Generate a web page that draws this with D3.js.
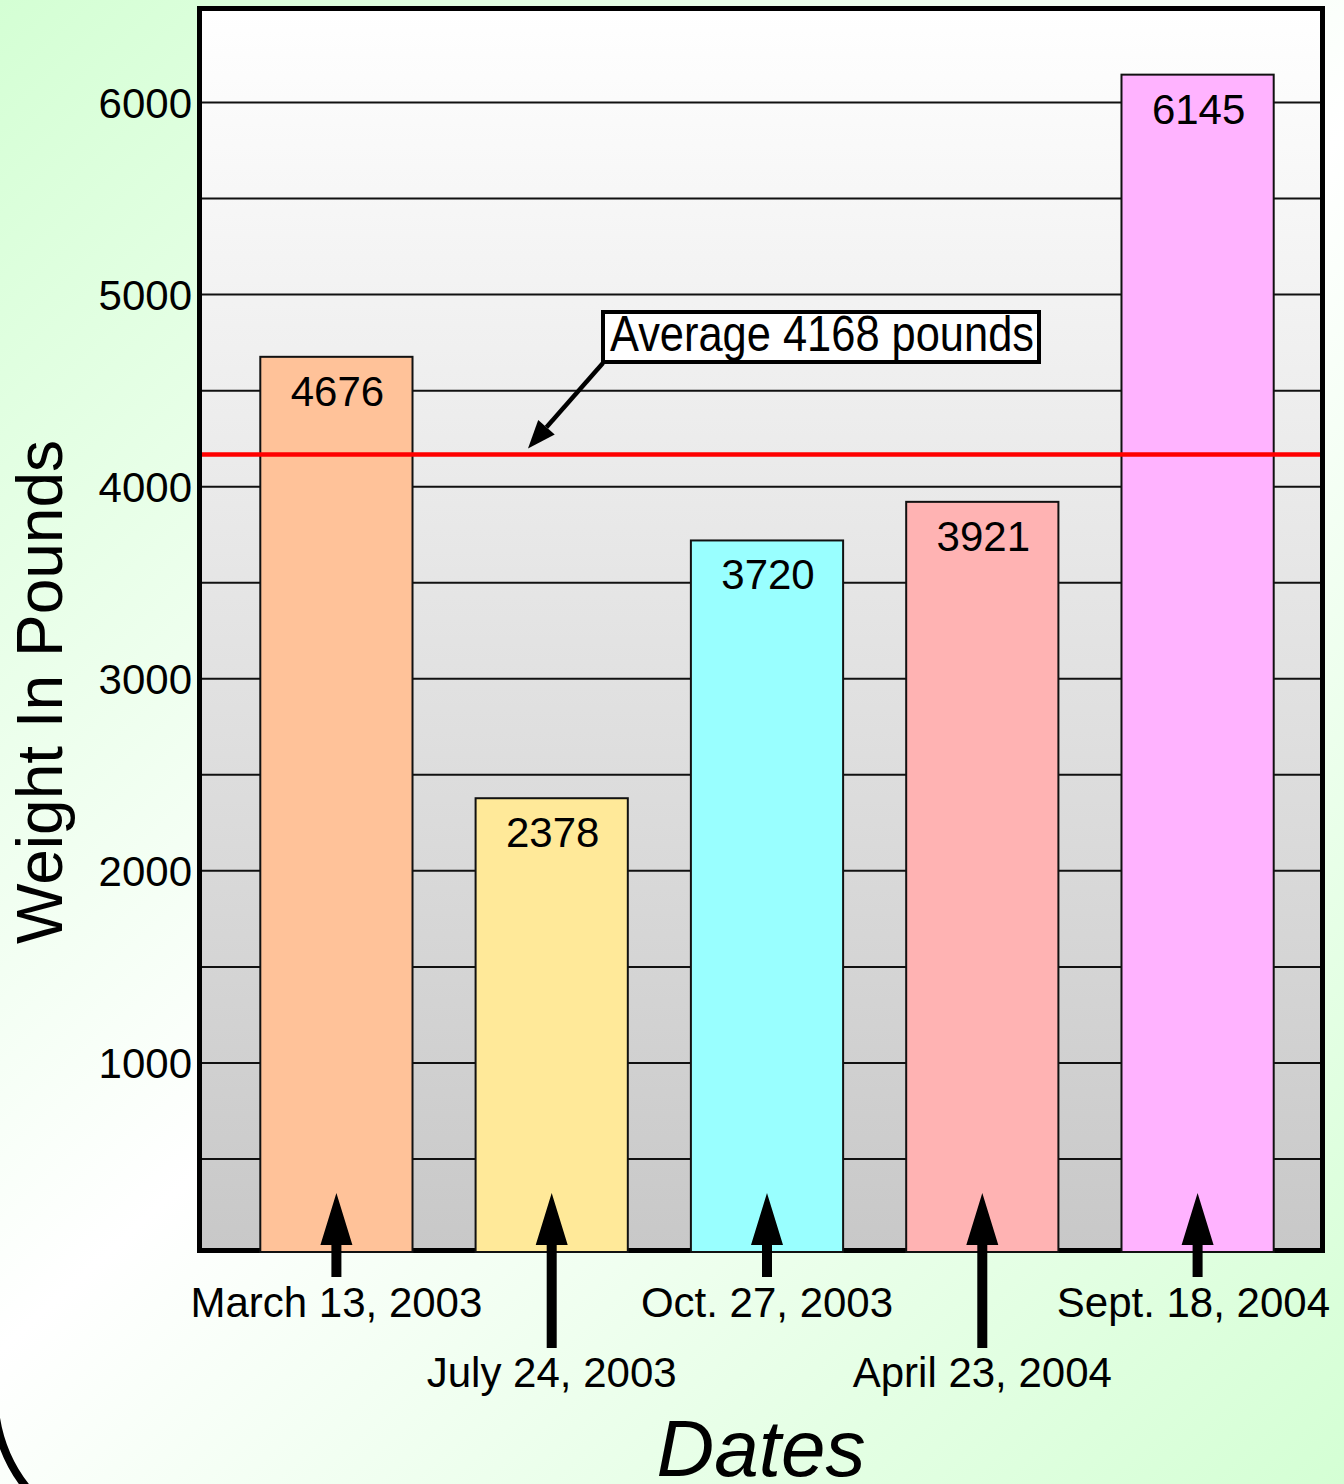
<!DOCTYPE html>
<html>
<head>
<meta charset="utf-8">
<script src="https://cdn.jsdelivr.net/npm/d3@7"></script>
<style>
  html, body { margin: 0; padding: 0; background: #fff; }
  svg { display: block; }
  text { font-family: "Liberation Sans", Arial, sans-serif; }
</style>
</head>
<body>
<svg id="chart" width="1344" height="1484"></svg>
<script>
// ---- data ----
const dates = ["March 13, 2003", "July 24, 2003", "Oct. 27, 2003", "April 23, 2004", "Sept. 18, 2004"];
const weights = [4676, 2378, 3720, 3921, 6145];
const barColors = ["#ffc299", "#ffe999", "#99ffff", "#ffb3b3", "#ffb3ff"];
const labelRows = [0, 1, 0, 1, 0];
const average = 4168;
const averageLabel = "Average 4168 pounds";
const yTickLabels = [1000, 2000, 3000, 4000, 5000, 6000];
const gridValues = [500, 1000, 1500, 2000, 2500, 3000, 3500, 4000, 4500, 5000, 5500, 6000];
const yTitle = "Weight In Pounds";
const xTitle = "Dates";

// ---- layout ----
const W = 1344, H = 1484;
const frame = { x0: 199.5, y0: 8.5, x1: 1322.5, y1: 1250.5 };
const svg = d3.select("#chart");
const defs = svg.append("defs");

const bg = defs.append("linearGradient").attr("id", "bg")
  .attr("gradientUnits", "userSpaceOnUse")
  .attr("x1", 0).attr("y1", 0).attr("x2", W).attr("y2", H);
bg.append("stop").attr("offset", "0%").attr("stop-color", "#d4ffd4");
bg.append("stop").attr("offset", "50%").attr("stop-color", "#ffffff");
bg.append("stop").attr("offset", "100%").attr("stop-color", "#d4ffd4");

const pg = defs.append("linearGradient").attr("id", "plotbg")
  .attr("x1", 0).attr("y1", 0).attr("x2", 0).attr("y2", 1);
pg.append("stop").attr("offset", "0%").attr("stop-color", "#ffffff");
pg.append("stop").attr("offset", "100%").attr("stop-color", "#c8c8c8");

svg.append("rect").attr("width", W).attr("height", H).attr("fill", "url(#bg)");

// decorative corner arc (bottom-left)
svg.append("path")
  .attr("d", "M-4,1418 A150,150 0 0 0 32,1494")
  .attr("fill", "none").attr("stroke", "#000").attr("stroke-width", 8);

const x = d3.scaleBand().domain(dates).range([228, 1306]).paddingInner(0.293).paddingOuter(0.15);
const y = d3.scaleLinear().domain([0, 6000]).range([1255, 102.5]);

// plot background
svg.append("rect")
  .attr("x", frame.x0).attr("y", frame.y0)
  .attr("width", frame.x1 - frame.x0).attr("height", frame.y1 - frame.y0)
  .attr("fill", "url(#plotbg)");

// grid lines
svg.append("g").selectAll("line").data(gridValues).join("line")
  .attr("x1", frame.x0).attr("x2", frame.x1)
  .attr("y1", d => y(d)).attr("y2", d => y(d))
  .attr("stroke", "#111").attr("stroke-width", 2);

// y tick labels via axis
const yAxis = d3.axisLeft(y).tickValues(yTickLabels).tickSize(0).tickPadding(0).tickFormat(d3.format("d"));
const ya = svg.append("g").attr("transform", `translate(192,0)`).call(yAxis);
ya.select(".domain").remove();
ya.selectAll("text")
  .attr("font-family", "'Liberation Sans', Arial, sans-serif")
  .attr("font-size", 42).attr("fill", "#000").attr("dy", "0.35em");

// frame
svg.append("rect")
  .attr("x", frame.x0).attr("y", frame.y0)
  .attr("width", frame.x1 - frame.x0).attr("height", frame.y1 - frame.y0)
  .attr("fill", "none").attr("stroke", "#000").attr("stroke-width", 5);

// bars
svg.append("g").selectAll("rect").data(weights).join("rect")
  .attr("x", (d, i) => x(dates[i]))
  .attr("y", d => y(d))
  .attr("width", x.bandwidth())
  .attr("height", d => y(0) - 3 - y(d))
  .attr("fill", (d, i) => barColors[i])
  .attr("stroke", "#111").attr("stroke-width", 2);

// bar value labels
svg.append("g").selectAll("text").data(weights).join("text")
  .attr("x", (d, i) => x(dates[i]) + x.bandwidth() / 2 + 1)
  .attr("y", d => y(d) + 49)
  .attr("text-anchor", "middle").attr("font-size", 42).attr("fill", "#000")
  .text(d => d);

// average line
svg.append("line")
  .attr("x1", frame.x0 + 2.5).attr("x2", frame.x1 - 2.5)
  .attr("y1", y(average)).attr("y2", y(average))
  .attr("stroke", "#ff0000").attr("stroke-width", 4.5);

// average annotation box
const box = { x: 603, y: 312, w: 436, h: 50 };
svg.append("rect").attr("x", box.x).attr("y", box.y).attr("width", box.w).attr("height", box.h)
  .attr("fill", "#fff").attr("stroke", "#000").attr("stroke-width", 4);
svg.append("text")
  .attr("x", box.x + 7).attr("y", box.y + 39)
  .attr("font-size", 50).attr("fill", "#000")
  .attr("textLength", 424).attr("lengthAdjust", "spacingAndGlyphs")
  .text(averageLabel);

// annotation arrow
(function () {
  const sx = box.x, sy = box.y + box.h + 1;
  const tx = 528, ty = y(average) - 6;
  const ang = Math.atan2(ty - sy, tx - sx);
  const hl = 28, hw = 11;
  const bx = tx - hl * Math.cos(ang), by = ty - hl * Math.sin(ang);
  svg.append("line").attr("x1", sx).attr("y1", sy).attr("x2", bx).attr("y2", by)
    .attr("stroke", "#000").attr("stroke-width", 4.5);
  const px = -Math.sin(ang), py = Math.cos(ang);
  svg.append("path")
    .attr("d", `M${tx},${ty} L${bx + px * hw},${by + py * hw} L${bx - px * hw},${by - py * hw} Z`)
    .attr("fill", "#000");
})();

// date arrows + labels
const base = y(0);
const rowBaseline = [1317, 1387];
const rowShaftEnd = [1277, 1348];
const ag = svg.append("g");
dates.forEach((d, i) => {
  const cx = x(d) + x.bandwidth() / 2;
  const tip = base - 62, headBase = base - 10, headW = 16, shaftW = 5;
  const end = rowShaftEnd[labelRows[i]];
  ag.append("path")
    .attr("d", `M${cx},${tip} L${cx + headW},${headBase} L${cx + shaftW},${headBase} L${cx + shaftW},${end} L${cx - shaftW},${end} L${cx - shaftW},${headBase} L${cx - headW},${headBase} Z`)
    .attr("fill", "#000");
  const t = ag.append("text")
    .attr("x", cx).attr("y", rowBaseline[labelRows[i]])
    .attr("text-anchor", "middle").attr("font-size", 42).attr("fill", "#000")
    .text(d);
  const len = t.node().getComputedTextLength();
  if (cx + len / 2 > W - 14) t.attr("x", W - 14 - len / 2);
});

// axis titles
svg.append("text")
  .attr("transform", "translate(62,692) rotate(-90)")
  .attr("text-anchor", "middle").attr("font-size", 64).attr("fill", "#000")
  .text(yTitle);
svg.append("text")
  .attr("x", 761).attr("y", 1476)
  .attr("text-anchor", "middle").attr("font-size", 80).attr("font-style", "italic").attr("fill", "#000")
  .text(xTitle);
</script>
</body>
</html>
